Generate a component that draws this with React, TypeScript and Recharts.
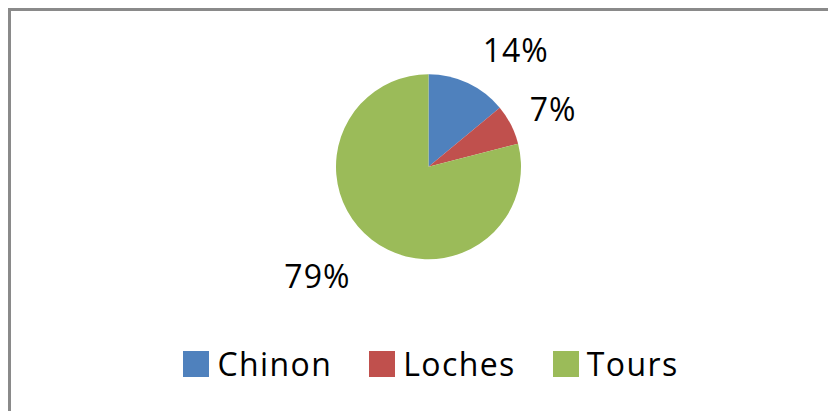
import React from "react";
import { PieChart, Pie, Cell, Legend } from "recharts";

const categories = ["Chinon", "Loches", "Tours"];
const values = [14, 7, 79];
const colors = ["#4F81BD", "#C0504D", "#9BBB59"];
const labelNudges: [number, number][] = [
  [2, -6],
  [-8, -2],
  [-3, 13],
];

const data = categories.map((name, i) => ({ name, value: values[i] }));
const FONT = "'Open Sans', sans-serif";
const RADIAN = Math.PI / 180;

const renderLabel = (props: any) => {
  const { cx, cy, midAngle, outerRadius, percent, index } = props;
  const r = outerRadius + 30;
  const x = cx + r * Math.cos(-midAngle * RADIAN);
  const y = cy + r * Math.sin(-midAngle * RADIAN);
  const n = labelNudges[index] || [0, 0];
  const anchor = x >= cx ? "start" : "end";
  return (
    <text
      x={x + n[0]}
      y={y + n[1] + 12}
      textAnchor={anchor}
      fill="#000"
      fontFamily={FONT}
      fontSize={32}
      letterSpacing={1}
    >
      {Math.round(percent * 100) + "%"}
    </text>
  );
};

const LegendContent = (props: any) => {
  const payload = props.payload || [];
  return (
    <div
      style={{
        display: "flex",
        justifyContent: "center",
        alignItems: "center",
        fontFamily: FONT,
        fontSize: 32,
        lineHeight: "34px",
        letterSpacing: 1.4,
        color: "#000",
        paddingLeft: 23,
      }}
    >
      {payload.map((p: any, i: number) => (
        <div
          key={i}
          style={{
            display: "flex",
            alignItems: "center",
            marginRight: i < payload.length - 1 ? 37 : 0,
          }}
        >
          <span
            style={{
              display: "inline-block",
              width: 26,
              height: 26,
              background: p.color,
              marginRight: 8,
            }}
          />
          <span>{p.value}</span>
        </div>
      ))}
    </div>
  );
};

export default function App() {
  return (
    <div
      style={{
        width: 840,
        height: 400,
        borderTop: "3px solid #8a8a8a",
        borderLeft: "3px solid #8a8a8a",
        background: "#fff",
      }}
    >
      <style>{"html,body{overflow:hidden}"}</style>
      <PieChart
        width={817}
        height={400}
        margin={{ top: 0, right: 0, bottom: 0, left: 0 }}
      >
        <Pie
          data={data}
          dataKey="value"
          nameKey="name"
          cx={417.5}
          cy={155.7}
          outerRadius={92.5}
          startAngle={90}
          endAngle={-270}
          stroke="none"
          label={renderLabel}
          labelLine={false}
          isAnimationActive={false}
        >
          {data.map((d, i) => (
            <Cell key={d.name} fill={colors[i]} />
          ))}
        </Pie>
        <Legend
          verticalAlign="bottom"
          content={<LegendContent />}
          wrapperStyle={{ top: 336, bottom: "auto", left: 0, width: 817 }}
        />
      </PieChart>
    </div>
  );
}
